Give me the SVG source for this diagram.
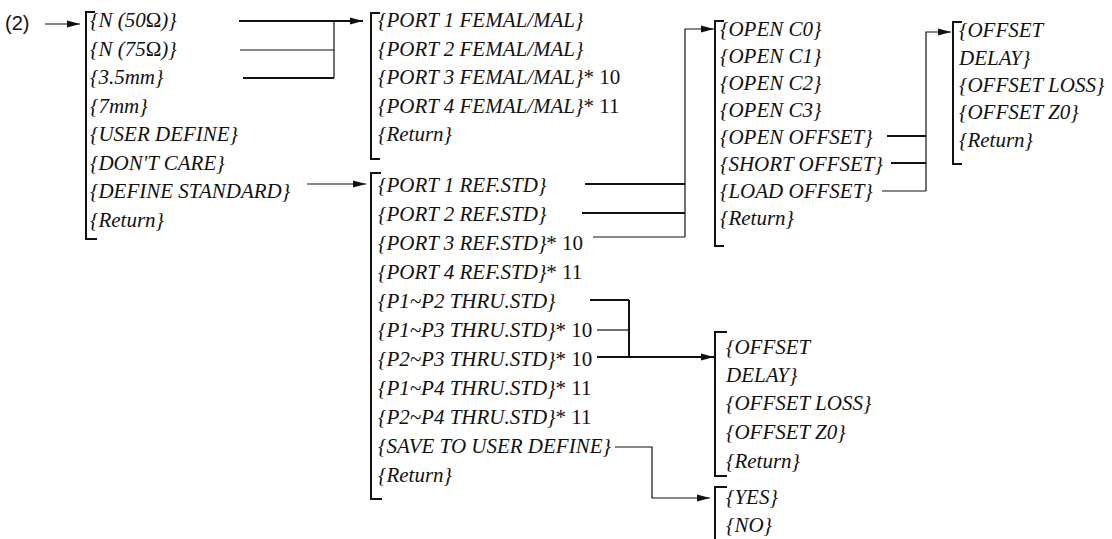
<svg xmlns="http://www.w3.org/2000/svg" width="1112" height="539" viewBox="0 0 1112 539">
<defs>
<style>
.br{fill:none;stroke:#111;stroke-width:2}
.thk{fill:none;stroke:#111;stroke-width:2}
.thn{fill:none;stroke:#111;stroke-width:1.2}
</style>
<marker id="ah" markerUnits="userSpaceOnUse" markerWidth="14" markerHeight="8" refX="13" refY="4" orient="auto">
<path d="M0,0.5 L13,4 L0,7.5 z" fill="#111"/>
</marker>
</defs>
<rect width="1112" height="539" fill="#fff"/>

<g id="start">
<text x="5" y="30" font-family="Liberation Sans, Arial, sans-serif" font-size="20" fill="#111">(2)</text>
</g>

<g id="menus" font-family="Liberation Serif, Times New Roman, DejaVu Serif, serif" font-size="21" font-style="italic" fill="#111">
<g id="menu-connector-type">
<path class="br" d="M95,12 H86 V239 H97"/>
<text x="90" y="27">{N (50<tspan font-style="normal">Ω</tspan>)}</text>
<text x="90" y="55.5">{N (75<tspan font-style="normal">Ω</tspan>)}</text>
<text x="90" y="84">{3.5mm}</text>
<text x="90" y="112.5">{7mm}</text>
<text x="90" y="141">{USER DEFINE}</text>
<text x="90" y="169.5">{DON'T CARE}</text>
<text x="90" y="198">{DEFINE STANDARD}</text>
<text x="90" y="226.5">{Return}</text>
</g>

<g id="menu-femal-mal">
<path class="br" d="M380,13 H371 V159 H380"/>
<text x="378" y="27">{PORT 1 FEMAL/MAL}</text>
<text x="378" y="55.5">{PORT 2 FEMAL/MAL}</text>
<text x="378" y="84">{PORT 3 FEMAL/MAL}<tspan font-style="normal">* 10</tspan></text>
<text x="378" y="112.5">{PORT 4 FEMAL/MAL}<tspan font-style="normal">* 11</tspan></text>
<text x="378" y="141">{Return}</text>
</g>

<g id="menu-define-standard">
<path class="br" d="M381,173 H371 V499 H382"/>
<text x="378" y="192">{PORT 1 REF.STD}</text>
<text x="378" y="221">{PORT 2 REF.STD}</text>
<text x="378" y="250">{PORT 3 REF.STD}<tspan font-style="normal">* 10</tspan></text>
<text x="378" y="279">{PORT 4 REF.STD}<tspan font-style="normal">* 11</tspan></text>
<text x="378" y="308">{P1~P2 THRU.STD}</text>
<text x="378" y="337">{P1~P3 THRU.STD}<tspan font-style="normal">* 10</tspan></text>
<text x="378" y="366">{P2~P3 THRU.STD}<tspan font-style="normal">* 10</tspan></text>
<text x="378" y="395">{P1~P4 THRU.STD}<tspan font-style="normal">* 11</tspan></text>
<text x="378" y="424">{P2~P4 THRU.STD}<tspan font-style="normal">* 11</tspan></text>
<text x="378" y="453">{SAVE TO USER DEFINE}</text>
<text x="378" y="482">{Return}</text>
</g>

<g id="menu-ref-std">
<path class="br" d="M724,21 H715 V246 H724"/>
<text x="720" y="36">{OPEN C0}</text>
<text x="720" y="63">{OPEN C1}</text>
<text x="720" y="90">{OPEN C2}</text>
<text x="720" y="117">{OPEN C3}</text>
<text x="720" y="144">{OPEN OFFSET}</text>
<text x="720" y="171">{SHORT OFFSET}</text>
<text x="720" y="198">{LOAD OFFSET}</text>
<text x="720" y="225">{Return}</text>
</g>

<g id="menu-offset-1">
<path class="br" d="M962,22 H953 V164 H962"/>
<text x="959" y="37">{OFFSET</text>
<text x="959" y="65">DELAY}</text>
<text x="959" y="92">{OFFSET LOSS}</text>
<text x="959" y="119">{OFFSET Z0}</text>
<text x="959" y="147">{Return}</text>
</g>

<g id="menu-offset-2">
<path class="br" d="M727,332 H715 V476 H727"/>
<text x="726" y="354">{OFFSET</text>
<text x="726" y="382">DELAY}</text>
<text x="726" y="410">{OFFSET LOSS}</text>
<text x="726" y="439">{OFFSET Z0}</text>
<text x="726" y="468">{Return}</text>
</g>

<g id="menu-save">
<path class="br" d="M727,487 H715 V539" stroke-width="1.5"/>
<text x="726" y="504">{YES}</text>
<text x="726" y="532">{NO}</text>
</g>
</g>

<g id="connectors">
<path class="thn" d="M45,24 H80" marker-end="url(#ah)"/>
<path class="thk" d="M239,21 H363" marker-end="url(#ah)"/>
<path class="thn" d="M240,50 H334"/>
<path class="thk" d="M243,78 H334"/>
<path class="thn" d="M334,21 V78"/>
<path class="thn" d="M307,184 H366" stroke-width="1.6" marker-end="url(#ah)"/>
<path class="thk" d="M585,184 H685"/>
<path class="thk" d="M582,213 H685"/>
<path class="thn" d="M593,237 H685"/>
<path class="thn" d="M685,237 V29 H714" marker-end="url(#ah)"/>
<path class="thk" d="M887,136 H926"/>
<path class="thk" d="M891,163 H926"/>
<path class="thn" d="M882,191 H926"/>
<path class="thn" d="M926,191 V32 H951" marker-end="url(#ah)"/>
<path class="thk" d="M590,300 H629"/>
<path class="thn" d="M597,330 H629"/>
<path class="thk" d="M629,300 V357"/>
<path class="thk" d="M597,357 H714" marker-end="url(#ah)"/>
<path class="thn" d="M615,447 H652 V498 H710" marker-end="url(#ah)"/>
</g>
</svg>
